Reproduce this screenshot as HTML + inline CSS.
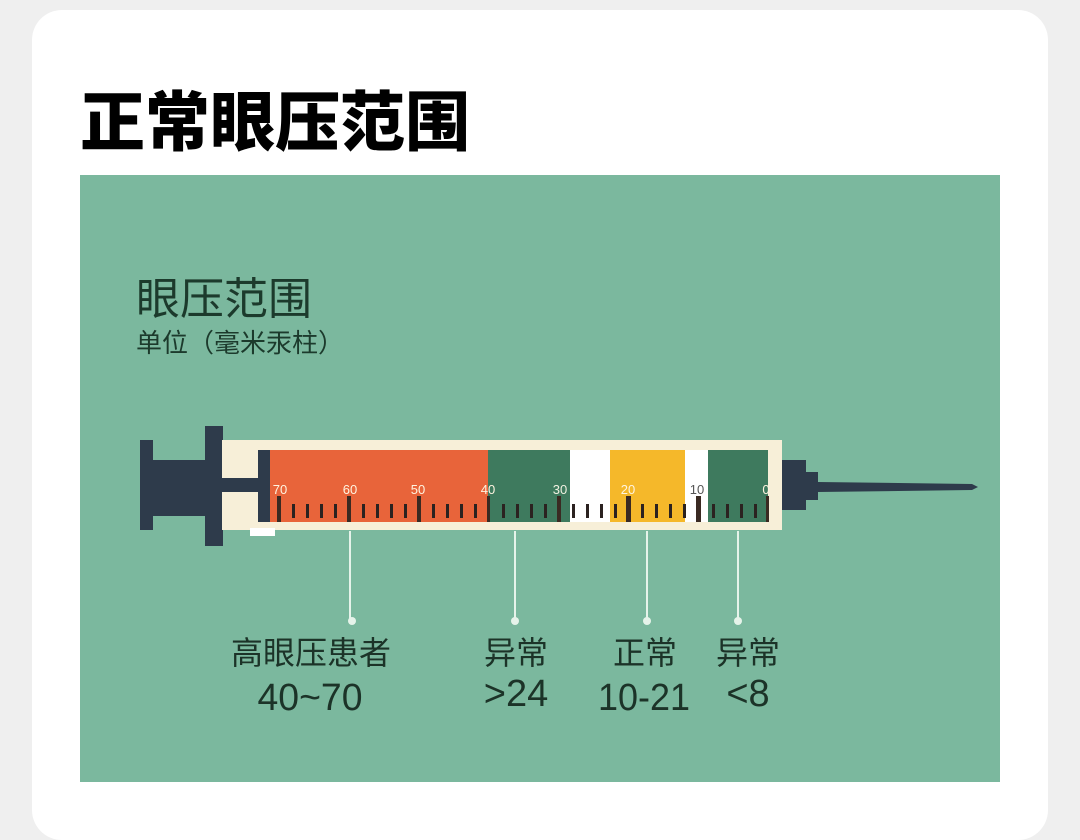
<!DOCTYPE html>
<html><head><meta charset="utf-8"><style>
html,body{margin:0;padding:0;width:1080px;height:810px;overflow:hidden;background:#efefef;}
.card{position:absolute;left:32px;top:10px;width:1016px;height:830px;background:#fff;border-radius:30px;}
.t{position:absolute;font-family:"Liberation Sans","Noto Sans CJK SC",sans-serif;white-space:nowrap;}
</style></head><body>
<div class="card"></div>
<div class="t" style="left:80px;top:70px;font-size:65px;font-weight:900;color:#000;">正常眼压范围</div>
<svg width="1080" height="810" style="position:absolute;left:0;top:0" xmlns="http://www.w3.org/2000/svg">
<rect x="80" y="175" width="920" height="607" fill="#7bb89e"/>
<g font-family="Liberation Sans, Noto Sans CJK SC, sans-serif" fill="#1c3a2c">
<text x="136" y="314" font-size="44">眼压范围</text>
<text x="136" y="352" font-size="26">单位（毫米汞柱）</text>
</g>
<rect x="140" y="440" width="13" height="90" fill="#2e3b4b"/>
<rect x="150" y="460" width="75" height="56" fill="#2e3b4b"/>
<rect x="205" y="426" width="18" height="120" fill="#2e3b4b"/>
<rect x="222" y="440" width="560" height="90" fill="#f7efd8"/>
<rect x="222" y="478" width="40" height="14" fill="#2e3b4b"/>
<rect x="258" y="450" width="12" height="72" fill="#2e3b4b"/>
<rect x="270" y="450" width="218" height="72" fill="#e8643a"/>
<rect x="488" y="450" width="82" height="72" fill="#3e7a5e"/>
<rect x="570" y="450" width="40" height="72" fill="#ffffff"/>
<rect x="610" y="450" width="75" height="72" fill="#f5b82a"/>
<rect x="685" y="450" width="23" height="72" fill="#ffffff"/>
<rect x="708" y="450" width="60" height="72" fill="#3e7a5e"/>
<rect x="250" y="528" width="25" height="8" fill="#ffffff"/>
<g fill="#3a2a22">
<rect x="277" y="496" width="4" height="26"/><rect x="347" y="496" width="4" height="26"/><rect x="417" y="496" width="4" height="26"/><rect x="487" y="496" width="3" height="26"/><rect x="557" y="496" width="4" height="26"/><rect x="626" y="496" width="5" height="26"/><rect x="696" y="496" width="5" height="26"/><rect x="766" y="496" width="3" height="26"/>
</g>
<g fill="#2b2220">
<rect x="292" y="504" width="3" height="14"/><rect x="306" y="504" width="3" height="14"/><rect x="320" y="504" width="3" height="14"/><rect x="334" y="504" width="3" height="14"/>
<rect x="362" y="504" width="3" height="14"/><rect x="376" y="504" width="3" height="14"/><rect x="390" y="504" width="3" height="14"/><rect x="404" y="504" width="3" height="14"/>
<rect x="432" y="504" width="3" height="14"/><rect x="446" y="504" width="3" height="14"/><rect x="460" y="504" width="3" height="14"/><rect x="474" y="504" width="3" height="14"/>
<rect x="502" y="504" width="3" height="14"/><rect x="516" y="504" width="3" height="14"/><rect x="530" y="504" width="3" height="14"/><rect x="544" y="504" width="3" height="14"/>
<rect x="572" y="504" width="3" height="14"/><rect x="586" y="504" width="3" height="14"/><rect x="600" y="504" width="3" height="14"/><rect x="614" y="504" width="3" height="14"/>
<rect x="641" y="504" width="3" height="14"/><rect x="655" y="504" width="3" height="14"/><rect x="669" y="504" width="3" height="14"/><rect x="683" y="504" width="3" height="14"/>
<rect x="712" y="504" width="3" height="14"/><rect x="726" y="504" width="3" height="14"/><rect x="740" y="504" width="3" height="14"/><rect x="754" y="504" width="3" height="14"/>
</g>
<g font-family="Liberation Sans, sans-serif" font-size="13" fill="#fff4e0" text-anchor="middle">
<text x="280" y="494">70</text><text x="350" y="494">60</text><text x="418" y="494">50</text><text x="488" y="494">40</text><text x="560" y="494" fill="#f0f0e0">30</text><text x="628" y="494">20</text><text x="697" y="494" fill="#555">10</text><text x="766" y="494">0</text>
</g>
<rect x="782" y="460" width="24" height="50" fill="#2e3b4b"/>
<rect x="805" y="472" width="13" height="28" fill="#2e3b4b"/>
<polygon points="818,482 972,484 978,487 972,490 818,492" fill="#2e3b4b"/>
<g stroke="#e6f3ea" stroke-width="2">
<line x1="350" y1="531" x2="350" y2="620"/><line x1="515" y1="531" x2="515" y2="620"/><line x1="647" y1="531" x2="647" y2="620"/><line x1="738" y1="531" x2="738" y2="620"/>
</g>
<g fill="#e6f3ea"><circle cx="352" cy="621" r="4"/><circle cx="515" cy="621" r="4"/><circle cx="647" cy="621" r="4"/><circle cx="738" cy="621" r="4"/></g>
<g font-family="Liberation Sans, Noto Sans CJK SC, sans-serif" font-size="32" fill="#1c3328" text-anchor="middle">
<text x="311" y="664">高眼压患者</text><text x="310" y="710" font-size="38" textLength="105" lengthAdjust="spacingAndGlyphs">40~70</text>
<text x="516" y="664">异常</text><text x="516" y="706" font-size="38">&gt;24</text>
<text x="645" y="664">正常</text><text x="644" y="710" font-size="38" textLength="92" lengthAdjust="spacingAndGlyphs">10-21</text>
<text x="748" y="664">异常</text><text x="748" y="706" font-size="38">&lt;8</text>
</g>
</svg>
</body></html>
